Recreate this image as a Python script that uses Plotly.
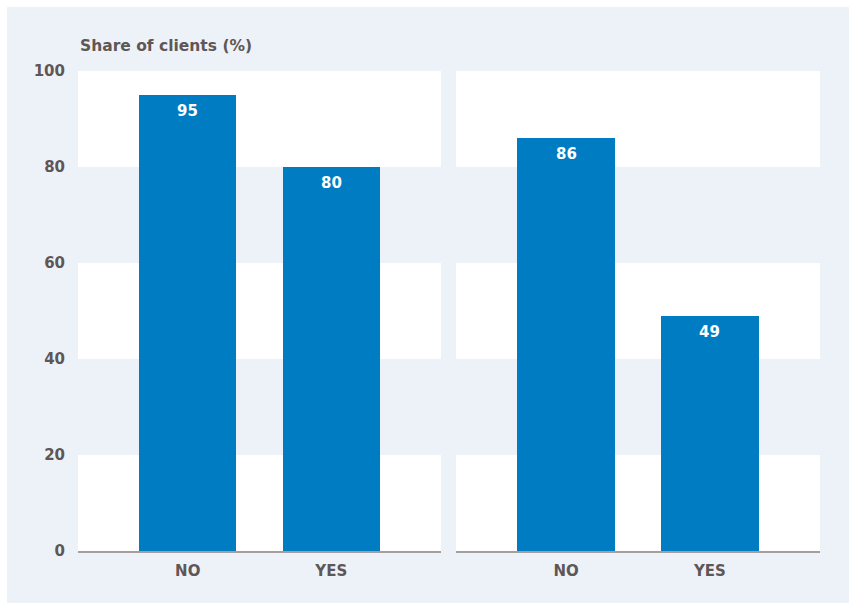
import plotly.graph_objects as go
from plotly.subplots import make_subplots

categories = ["NO", "YES"]
left_values = [95, 80]
right_values = [86, 49]
y_ticks = [0, 20, 40, 60, 80, 100]
white_bands = [(0, 20), (40, 60), (80, 100)]
y_title = "Share of clients (%)"

PANEL = "#EDF2F9"
BAR = "#007CC3"
TXT = "#5F5656"
FONT = "DejaVu Sans"

Y_MAX = 100
plot_w = 742
plot_h = 480
dom1 = [0, 363 / plot_w]
dom2 = [378 / plot_w, 1]

fig = make_subplots(rows=1, cols=2, shared_yaxes=False, horizontal_spacing=0.0)

# light panel with white border (paper coords)
fig.add_shape(type="rect", xref="paper", yref="paper",
              x0=-71 / plot_w, x1=(849 - 78) / plot_w,
              y0=-52 / plot_h, y1=(plot_h + 64) / plot_h,
              fillcolor=PANEL, line=dict(width=0), layer="below")

for col, vals, dom in [(1, left_values, dom1), (2, right_values, dom2)]:
    fig.add_trace(go.Bar(x=categories, y=vals, marker=dict(color=BAR, line=dict(width=0)),
                         width=0.676, showlegend=False, hoverinfo="skip"), row=1, col=col)
    xr = "x" if col == 1 else "x2"
    yr = "y" if col == 1 else "y2"
    for c, v in zip(categories, vals):
        fig.add_annotation(x=c, y=v, xref=xr, yref=yr, text=f"<b>{v}</b>", showarrow=False,
                           yanchor="top", yshift=-5,
                           font=dict(family=FONT, size=15, color="white"))
    for lo, hi in white_bands:
        fig.add_shape(type="rect", xref="paper", yref="paper", x0=dom[0], x1=dom[1],
                      y0=lo / Y_MAX, y1=hi / Y_MAX,
                      fillcolor="white", line=dict(width=0), layer="below")

fig.update_layout(
    width=849, height=608,
    margin=dict(l=78, r=29, t=71, b=57),
    paper_bgcolor="white",
    plot_bgcolor="rgba(0,0,0,0)",
    bargap=0,
    xaxis=dict(domain=dom1),
    xaxis2=dict(domain=dom2),
)

fig.update_xaxes(range=[-0.765, 1.765], showgrid=False, zeroline=False,
                 showline=True, linecolor="#A59E9E", linewidth=1.5,
                 ticks="", ticklabelstandoff=5,
                 tickfont=dict(family=FONT, size=15, color=TXT, weight="bold"))
fig.update_yaxes(range=[0, Y_MAX], tickvals=y_ticks, showgrid=False, zeroline=False,
                 showline=False, fixedrange=True)
fig.update_yaxes(row=1, col=1, ticklabelstandoff=12,
                 tickfont=dict(family=FONT, size=15, color=TXT, weight="bold"))
fig.update_yaxes(row=1, col=2, showticklabels=False)

fig.add_annotation(xref="paper", yref="paper", x=0, y=1, yshift=25, xanchor="left",
                   yanchor="middle", text=f"<b>{y_title}</b>", showarrow=False,
                   font=dict(family=FONT, size=15.5, color=TXT))

fig.write_html("out.html", config={"displayModeBar": False},
               post_script="document.body.style.margin='0';")
